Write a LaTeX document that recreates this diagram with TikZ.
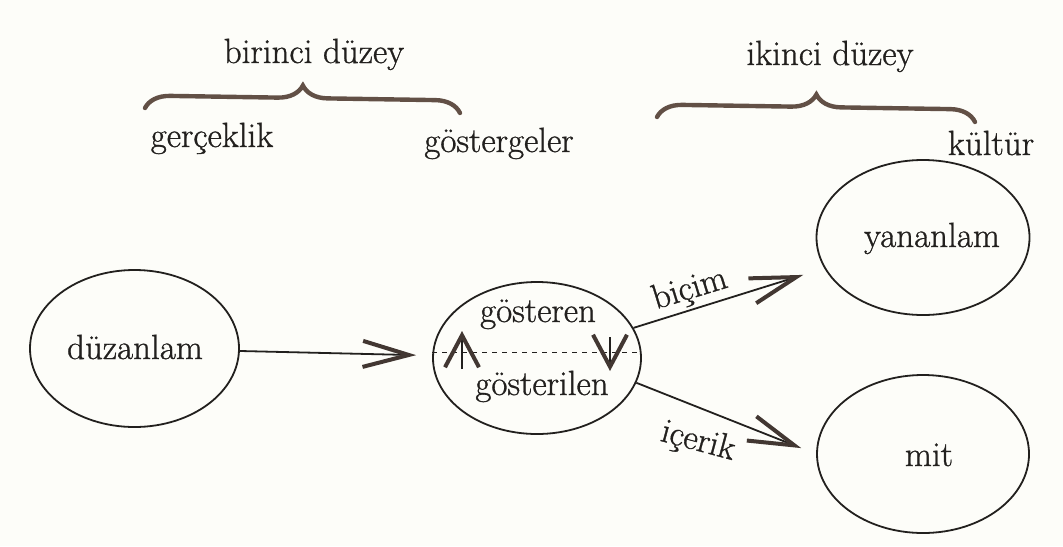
\documentclass[tikz,border=0pt]{standalone}
\usepackage{fontspec}
\newfontfamily\diagfont{Latin Modern Roman}[FakeBold=0.9]
\usetikzlibrary{shapes.geometric,arrows.meta,decorations.pathreplacing}
\definecolor{ink}{RGB}{34,32,30}
\definecolor{tipink}{RGB}{66,55,50}
\definecolor{bracebrown}{RGB}{98,80,70}
\definecolor{paper}{RGB}{253,253,249}
\begin{document}
\begin{tikzpicture}[x=0.5pt,y=-0.5pt,
  oval/.style={draw=ink, line width=0.9pt, ellipse, inner sep=0pt},
  word/.style={font=\diagfont\fontsize{17.5}{20}\selectfont, text=ink, inner sep=0pt},
  baseword/.style={word, anchor=base},
  link/.style={draw=ink, line width=0.9pt,
    -{Straight Barb[length=23pt,width=13pt,line width=2pt,color=tipink]}},
  flip/.style={draw=ink, line width=0.7pt,
    -{Straight Barb[length=16pt,width=17pt,line width=2pt,color=tipink]}},
  divider/.style={draw=ink, line width=0.6pt, dash pattern=on 2.5pt off 2.5pt},
  level/.style={draw=bracebrown, line width=2.2pt, line cap=round,
    decorate, decoration={brace, amplitude=12.5pt}}
]
% paper and page size
\fill[paper] (0,0) rectangle (1063,546);
\useasboundingbox (0,0) rectangle (1063,546);

% the two levels
\coordinate (b1l) at (145,108);
\coordinate (b1r) at (460,113);
\coordinate (b2l) at (657,117);
\coordinate (b2r) at (975,122);
\draw[level] (b1l) -- (b1r);
\draw[level] (b2l) -- (b2r);
\node[baseword] (lvl1) at (314,63) {birinci düzey};
\node[baseword] (lvl2) at (830,65) {ikinci düzey};
\node[baseword] (real) at (212,147) {gerçeklik};
\node[baseword] (signs) at (499,152) {göstergeler};
\node[baseword] (cult) at (991,155) {kültür};

% the four ovals
\node[oval, minimum width=104.5pt, minimum height=78.5pt] (duz) at (134.5,348.5) {};
\node[oval, minimum width=104pt, minimum height=76pt] (gos) at (537,358) {};
\node[oval, minimum width=106.5pt, minimum height=77.5pt] (yan) at (923,237.5) {};
\node[oval, minimum width=106pt, minimum height=79pt] (mit) at (923,454) {};

\node[baseword] (tduz) at (135,359) {düzanlam};
\node[baseword] (tgen) at (538,322) {gösteren};
\node[baseword] (tgil) at (542,395) {gösterilen};
\node[baseword] (tyan) at (932,247) {yananlam};
\node[baseword] (tmit) at (929,466) {mit};

% the sign split in two
\draw[divider] (gos.177) -- (gos.3);
\coordinate (upfoot) at (462,369);
\coordinate (uptip) at (462,331);
\coordinate (downtop) at (610,337);
\coordinate (downtip) at (610,371);
\draw[flip] (upfoot) -- (uptip);
\draw[flip] (downtop) -- (downtip);

% connectors
\draw[link, shorten >=8pt] (duz) -- (gos);
\draw[link, shorten >=11pt] (gos) -- (yan);
\draw[link, shorten >=8pt] (gos.-14) -- (mit.west);
\node[word, rotate=17] (form) at (690,290) {biçim};
\node[word, rotate=-15] (content) at (698,442) {içerik};
\end{tikzpicture}
\end{document}
